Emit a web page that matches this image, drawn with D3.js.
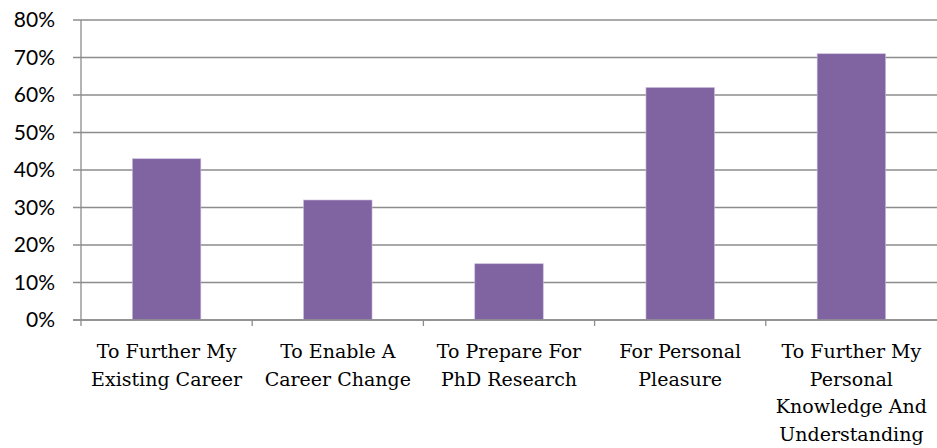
<!DOCTYPE html>
<html>
<head>
<meta charset="utf-8">
<script src="https://cdn.jsdelivr.net/npm/d3@7"></script>
<style>
    body { margin: 0; background: #fff; }
    .y-axis text { font-family: Lato, sans-serif; font-size: 21px; fill: #000; }
    .cat-label { font-family: "DejaVu Serif", serif; font-size: 19px; fill: #000; }
</style>
</head>
<body>
<div id="chart"></div>
<script>
// chart data
let categories = [
    ["To Further My", "Existing Career"],
    ["To Enable A", "Career Change"],
    ["To Prepare For", "PhD Research"],
    ["For Personal", "Pleasure"],
    ["To Further My", "Personal", "Knowledge And", "Understanding"]
];
let values = [0.43, 0.32, 0.15, 0.62, 0.71];
let yTicks = [0, 0.1, 0.2, 0.3, 0.4, 0.5, 0.6, 0.7, 0.8];

let margin = {top: 20, right: 0, bottom: 128, left: 81};
let width = 937 - margin.left - margin.right;
let height = 448 - margin.top - margin.bottom;

let svg = d3.select("#chart").append("svg")
    .attr("width", 937)
    .attr("height", 448)
    .append("g")
    .attr("transform", `translate(${margin.left}, ${margin.top})`);

let x = d3.scaleBand()
    .domain(d3.range(categories.length))
    .range([0, width])
    .paddingInner(0.6)
    .paddingOuter(0.3);

let y = d3.scaleLinear()
    .domain([0, 0.8])
    .range([height, 0]);

// gridlines
svg.append("g")
    .selectAll("line")
    .data(yTicks)
    .enter().append("line")
    .attr("x1", -8)
    .attr("x2", width)
    .attr("y1", d => y(d))
    .attr("y2", d => y(d))
    .attr("stroke", "#8c8c8c")
    .attr("stroke-width", 1.3);

// y axis labels
let yAxis = d3.axisLeft(y)
    .tickValues(yTicks)
    .tickFormat(d3.format(".0%"))
    .tickSize(0)
    .tickPadding(26);

svg.append("g")
    .attr("class", "y-axis")
    .call(yAxis)
    .call(g => g.select(".domain").remove());

// bars
svg.selectAll(".bar")
    .data(values)
    .enter().append("rect")
    .attr("class", "bar")
    .attr("x", (d, i) => x(i))
    .attr("y", d => y(d))
    .attr("width", x.bandwidth())
    .attr("height", d => height - y(d))
    .attr("fill", "#8064a2")
    .attr("stroke", "#c9bbdc")
    .attr("stroke-width", 0.6);

// axis lines
svg.append("line")
    .attr("x1", 0).attr("x2", 0)
    .attr("y1", 0).attr("y2", height + 6)
    .attr("stroke", "#8c8c8c").attr("stroke-width", 1.3);

svg.append("line")
    .attr("x1", -8).attr("x2", width)
    .attr("y1", height).attr("y2", height)
    .attr("stroke", "#8c8c8c").attr("stroke-width", 1.3);

let step = width / categories.length;

// category ticks
svg.append("g")
    .selectAll("line")
    .data(d3.range(1, categories.length))
    .enter().append("line")
    .attr("x1", d => d * step)
    .attr("x2", d => d * step)
    .attr("y1", height)
    .attr("y2", height + 6)
    .attr("stroke", "#8c8c8c")
    .attr("stroke-width", 1.3);

// category labels
let labels = svg.append("g")
    .selectAll("text")
    .data(categories)
    .enter().append("text")
    .attr("class", "cat-label")
    .attr("text-anchor", "middle")
    .attr("transform", (d, i) => `translate(${x(i) + x.bandwidth() / 2}, ${height + 38})`);

labels.selectAll("tspan")
    .data(d => d)
    .enter().append("tspan")
    .attr("x", 0)
    .attr("y", (d, i) => i * 27.5)
    .text(d => d);
</script>
</body>
</html>
